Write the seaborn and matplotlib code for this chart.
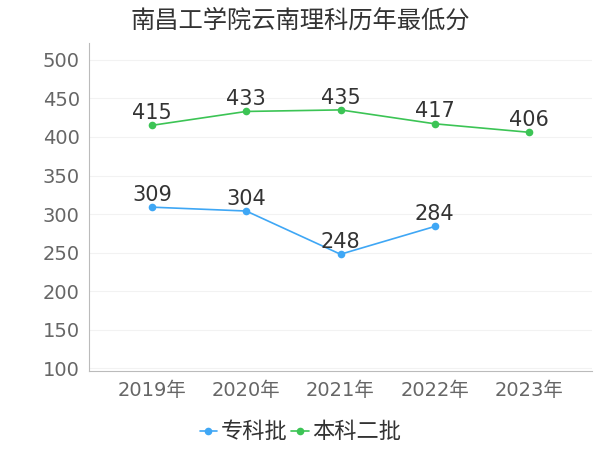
import matplotlib
matplotlib.use("Agg")
import matplotlib.pyplot as plt
import seaborn as sns
import pandas as pd

years = ["2019年", "2020年", "2021年", "2022年", "2023年"]
zhuanke = [309, 304, 248, 284, None]
benke2 = [415, 433, 435, 417, 406]
series_names = ["专科批", "本科二批"]
colors = ["#3fa7f5", "#3cc455"]
title = "南昌工学院云南理科历年最低分"

sns.set_theme(style="white")
plt.rcParams['font.family'] = ['DejaVu Sans', 'Noto Sans CJK SC']

rows = []
for name, vals in zip(series_names, [zhuanke, benke2]):
    for i, (y, v) in enumerate(zip(years, vals)):
        if v is not None:
            rows.append({"year": y, "idx": i, "score": v, "series": name})
df = pd.DataFrame(rows)

fig = plt.figure(figsize=(6, 4.5), dpi=100)
ax = fig.add_axes([0.148, 0.176, 0.839, 0.729])

for name, col in zip(series_names, colors):
    sub = df[df.series == name]
    sns.lineplot(data=sub, x="idx", y="score", ax=ax, color=col, marker="o",
                 markersize=5.5, markeredgewidth=0, linewidth=1.2, label=name)
    for _, r in sub.iterrows():
        ax.text(r.idx, r.score + 3, str(r.score), ha="center", va="bottom",
                fontsize=15, color="#333333")

ax.set_xlim(-0.67, 4.67)
ax.set_ylim(97, 522)
ax.set_yticks([100, 150, 200, 250, 300, 350, 400, 450, 500])
ax.set_xticks(range(len(years)))
ax.set_xticklabels(years)
ax.tick_params(axis="both", labelsize=14, colors="#666666", length=4, width=0.8)
ax.tick_params(axis="y", length=3)
for lab in ax.get_xticklabels() + ax.get_yticklabels():
    lab.set_color("#666666")
ax.set_xlabel("")
ax.set_ylabel("")
ax.grid(axis="y", color="#f2f2f2", linewidth=0.8)
for s in ["top", "right"]:
    ax.spines[s].set_visible(False)
for s in ["left", "bottom"]:
    ax.spines[s].set_color("#bbbbbb")
    ax.spines[s].set_linewidth(0.8)

fig.text(0.5, 0.955, title, fontsize=17.5, color="#333333", ha="center", va="center")

leg = ax.legend(loc="upper center", bbox_to_anchor=(0.42, -0.095), ncol=2,
                frameon=False, fontsize=16, handlelength=0.8, handletextpad=0.15,
                columnspacing=0.15)
for t in leg.get_texts():
    t.set_color("#333333")

fig.savefig("out.png", dpi=100)
